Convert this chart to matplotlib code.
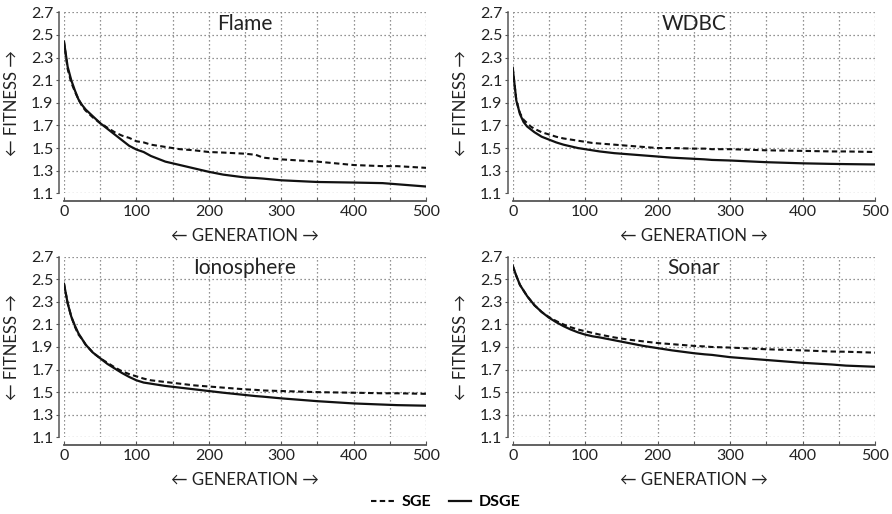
import matplotlib
matplotlib.use("Agg")
import matplotlib.pyplot as plt
from matplotlib.ticker import MultipleLocator, FormatStrFormatter

plt.rcParams['font.family'] = ['Lato', 'DejaVu Sans']

generations = [0, 5, 10, 15, 20, 25, 30, 40, 50, 60, 70, 80, 90, 100, 110, 120, 140, 160,
               180, 200, 220, 250, 265, 275, 300, 350, 400, 440, 460, 500]

flame_sge = [2.44, 2.20, 2.08, 2.00, 1.93, 1.87, 1.83, 1.77, 1.72, 1.68, 1.64, 1.61, 1.59, 1.56,
             1.55, 1.53, 1.51, 1.49, 1.48, 1.465, 1.46, 1.45, 1.44, 1.415, 1.40, 1.38, 1.35,
             1.34, 1.34, 1.325]
flame_dsge = [2.44, 2.22, 2.10, 2.01, 1.93, 1.88, 1.84, 1.78, 1.72, 1.67, 1.62, 1.57, 1.52, 1.487,
              1.465, 1.43, 1.38, 1.35, 1.32, 1.29, 1.265, 1.24, 1.235, 1.23, 1.215, 1.20, 1.195,
              1.19, 1.18, 1.16]
wdbc_sge = [2.21, 1.92, 1.81, 1.75, 1.72, 1.69, 1.67, 1.64, 1.62, 1.60, 1.585, 1.575, 1.565, 1.555,
            1.545, 1.54, 1.53, 1.52, 1.51, 1.50, 1.50, 1.495, 1.495, 1.49, 1.49, 1.48, 1.475,
            1.47, 1.47, 1.465]
wdbc_dsge = [2.21, 1.92, 1.80, 1.73, 1.69, 1.665, 1.64, 1.60, 1.575, 1.55, 1.53, 1.515, 1.50, 1.49,
             1.48, 1.47, 1.455, 1.445, 1.435, 1.425, 1.415, 1.405, 1.40, 1.395, 1.39, 1.375,
             1.365, 1.36, 1.358, 1.355]
iono_sge = [2.46, 2.29, 2.17, 2.08, 2.01, 1.97, 1.92, 1.85, 1.80, 1.76, 1.72, 1.685, 1.66, 1.64,
            1.62, 1.605, 1.59, 1.575, 1.56, 1.55, 1.54, 1.525, 1.52, 1.515, 1.51, 1.50, 1.495,
            1.49, 1.49, 1.485]
iono_dsge = [2.46, 2.29, 2.17, 2.09, 2.02, 1.97, 1.92, 1.85, 1.80, 1.75, 1.71, 1.67, 1.635, 1.605,
             1.585, 1.575, 1.555, 1.54, 1.525, 1.51, 1.495, 1.475, 1.465, 1.46, 1.445, 1.42,
             1.40, 1.39, 1.385, 1.38]
sonar_sge = [2.62, 2.53, 2.45, 2.40, 2.35, 2.31, 2.27, 2.21, 2.165, 2.13, 2.10, 2.075, 2.055, 2.04,
             2.025, 2.01, 1.985, 1.965, 1.95, 1.935, 1.925, 1.91, 1.905, 1.90, 1.895, 1.88,
             1.87, 1.86, 1.858, 1.85]
sonar_dsge = [2.62, 2.53, 2.45, 2.40, 2.35, 2.31, 2.27, 2.21, 2.16, 2.12, 2.085, 2.055, 2.03, 2.01,
              1.995, 1.985, 1.96, 1.935, 1.91, 1.89, 1.87, 1.845, 1.835, 1.83, 1.81, 1.785,
              1.76, 1.745, 1.735, 1.725]

titles = ["Flame", "WDBC", "Ionosphere", "Sonar"]
sge_series = [flame_sge, wdbc_sge, iono_sge, sonar_sge]
dsge_series = [flame_dsge, wdbc_dsge, iono_dsge, sonar_dsge]
series_labels = ["SGE", "DSGE"]
xlabel = "← GENERATION →"
ylabel = "← FITNESS →"

W, H = 892, 514
fig = plt.figure(figsize=(W / 100, H / 100), dpi=100)

# axes boxes in pixels: (left, top, right, bottom)
boxes = [(64, 12.3, 426, 193.3), (512.7, 12.3, 875, 193.3),
         (64, 256.7, 426, 437.3), (512.7, 256.7, 875, 437.3)]
ylabel_x = [12.5, 461]

handles = None
for i, (l, t, r, b) in enumerate(boxes):
    ax = fig.add_axes([l / W, 1 - b / H, (r - l) / W, (b - t) / H])
    ax.set_xlim(0, 500)
    ax.set_ylim(1.1, 2.7)
    h1, = ax.plot(generations, sge_series[i], color='#111111', lw=1.5,
                  linestyle=(0, (2.6, 1.6)), label=series_labels[0])
    h2, = ax.plot(generations, dsge_series[i], color='#111111', lw=1.6,
                  linestyle='-', label=series_labels[1])
    handles = [h1, h2]
    ax.xaxis.set_major_locator(MultipleLocator(100))
    ax.xaxis.set_minor_locator(MultipleLocator(50))
    ax.yaxis.set_major_formatter(FormatStrFormatter('%.1f'))
    ax.set_yticks([1.1 + 0.2 * k for k in range(9)])
    ax.grid(True, which='both', axis='x', color='#707070', linestyle=(0, (1, 2.2)), lw=0.9)
    ax.grid(True, which='major', axis='y', color='#707070', linestyle=(0, (1, 2.2)), lw=0.9)
    ax.set_axisbelow(True)
    for s in ['top', 'right']:
        ax.spines[s].set_visible(False)
    ax.spines['left'].set_position(('outward', 3.6))
    ax.spines['bottom'].set_position(('outward', 5.2))
    ax.spines['left'].set_color('#555555')
    ax.spines['bottom'].set_color('#555555')
    ax.spines['left'].set_linewidth(1.1)
    ax.spines['bottom'].set_linewidth(1.3)
    ax.tick_params(axis='x', which='both', direction='in', length=3, width=0.8,
                   color='#555555', labelsize=11.5, pad=3.5, labelcolor='#222222')
    ax.tick_params(axis='y', which='both', direction='out', length=2.5, width=0.8,
                   color='#555555', labelsize=11.5, pad=1.5, labelcolor='#222222')
    ax.text(0.5, 0.902, titles[i], transform=ax.transAxes, ha='center', va='baseline',
            fontsize=15, color='#222222')
    # axis labels
    fig.text((l + r) / 2 / W, 1 - (b + 43) / H, xlabel, ha='center', va='center',
             fontsize=12, color='#222222')
    fig.text(ylabel_x[i % 2] / W, 1 - ((t + b) / 2) / H, ylabel, ha='center', va='center',
             rotation=90, fontsize=12, color='#222222')

fig.legend(handles, series_labels, loc='center', bbox_to_anchor=(446 / W, 1 - 502 / H),
           ncol=2, frameon=False, prop={'weight': 'bold', 'size': 11.5},
           handlelength=1.4, handletextpad=0.5, columnspacing=1.1, borderpad=0)

fig.savefig("out.png", dpi=100)
